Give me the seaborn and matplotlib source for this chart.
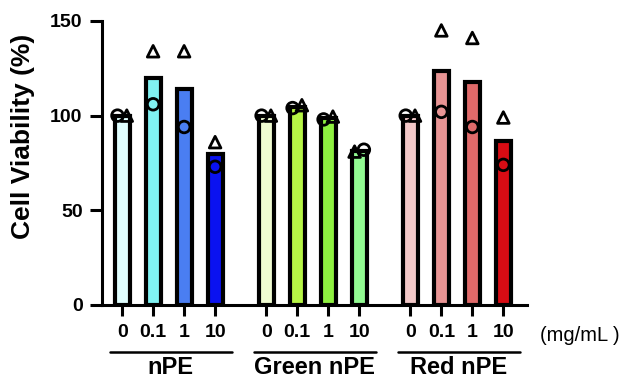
import matplotlib.pyplot as plt
import numpy as np
import pandas as pd
import seaborn as sns

# Values (two replicates per condition)
materials = ["nPE", "Green nPE", "Red nPE"]
doses = ["0", "0.1", "1", "10"]

npe_circle = [100, 106, 94, 73]
npe_triangle = [100, 134, 134, 86]
green_circle = [100, 104, 98, 82]
green_triangle = [100, 105.5, 99.5, 81]
red_circle = [100, 102, 94, 74]
red_triangle = [100, 145, 141, 99]

npe_colors = ["#E0FEFE", "#80F2F2", "#4A7EF2", "#0A12F0"]
green_colors = ["#F0FCD2", "#B6F545", "#8EF040", "#92FA92"]
red_colors = ["#F2C8C8", "#E89494", "#E06A6A", "#D80C14"]

GROUP_STEP = 4.65


def build_frame() -> pd.DataFrame:
    """Long table with one row per replicate."""
    circles = [npe_circle, green_circle, red_circle]
    triangles = [npe_triangle, green_triangle, red_triangle]
    rows = []
    for g, mat in enumerate(materials):
        for i, dose in enumerate(doses):
            pos = g * GROUP_STEP + i
            c, t = circles[g][i], triangles[g][i]
            # spread overlapping replicates sideways like GraphPad does
            dc = dt = 0.0
            if abs(c - t) < 4:
                if c <= t:
                    dc, dt = -0.15, 0.15
                else:
                    dc, dt = 0.15, -0.15
            key = f"{mat} {dose}"
            rows.append(dict(key=key, pos=pos, rep="circle", value=c, xs=pos + dc))
            rows.append(dict(key=key, pos=pos, rep="triangle", value=t, xs=pos + dt))
    return pd.DataFrame(rows)


def main():
    sns.set_style("ticks")
    plt.rcParams["font.family"] = ["Liberation Sans", "DejaVu Sans"]
    plt.rcParams["text.color"] = "black"
    plt.rcParams["xtick.color"] = "black"
    plt.rcParams["ytick.color"] = "black"
    plt.rcParams["axes.labelcolor"] = "black"

    df = build_frame()
    keys = df["key"].unique()
    palette = dict(zip(keys, npe_colors + green_colors + red_colors))

    fig = plt.figure(figsize=(6.28, 3.81), dpi=100)
    ax = fig.add_axes([0.1624, 0.1995, 0.839 - 0.1624, 0.945 - 0.1995])

    sns.barplot(
        data=df, x="pos", y="value", hue="key", palette=palette,
        native_scale=True, dodge=False, errorbar=None, width=0.48,
        edgecolor="black", linewidth=3, legend=False, saturation=1, ax=ax,
    )

    marker_kw = dict(s=70, facecolor="none", edgecolor="black", linewidth=2,
                     zorder=4, clip_on=False, legend=False, ax=ax)
    circ = df[df["rep"] == "circle"]
    tri = df[df["rep"] == "triangle"]
    sns.scatterplot(x=circ["xs"].values, y=circ["value"].values, marker="o", **marker_kw)
    sns.scatterplot(x=tri["xs"].values, y=tri["value"].values, marker="^", **marker_kw)

    positions = sorted(df["pos"].unique())
    ax.set_xlim(-0.65, 13.06)
    ax.set_ylim(0, 150)
    ax.set_yticks([0, 50, 100, 150])
    ax.set_xticks(positions)
    ax.set_xticklabels(doses * len(materials))
    ax.set_xlabel("")
    ax.set_ylabel("Cell Viability (%)", fontsize=19, fontweight="bold")
    ax.yaxis.set_label_coords(-0.158, 0.595)

    for lab in ax.get_xticklabels() + ax.get_yticklabels():
        lab.set_fontweight("bold")
        lab.set_fontsize(14)

    ax.tick_params(axis="x", length=8, width=2.2, pad=6)
    ax.tick_params(axis="y", length=9, width=2.2, pad=5)
    sns.despine(ax=ax)
    for side in ["left", "bottom"]:
        ax.spines[side].set_linewidth(2.2)
        ax.spines[side].set_color("black")

    # group underlines and names below the dose labels
    trans = ax.get_xaxis_transform()
    for g, mat in enumerate(materials):
        center = g * GROUP_STEP + 1.5
        ax.plot([center - 1.9, center + 2.05], [-0.1655, -0.1655], color="black",
                lw=1.8, transform=trans, clip_on=False)
        ax.text(center + 0.07, -0.262, mat, transform=trans, ha="center", va="bottom",
                fontsize=17, fontweight="bold")

    ax.text(13.48, -0.106, "(mg/mL )", transform=trans, ha="left", va="center",
            fontsize=14.5)

    fig.savefig("out.png", dpi=100)
    plt.close(fig)


if __name__ == "__main__":
    main()
